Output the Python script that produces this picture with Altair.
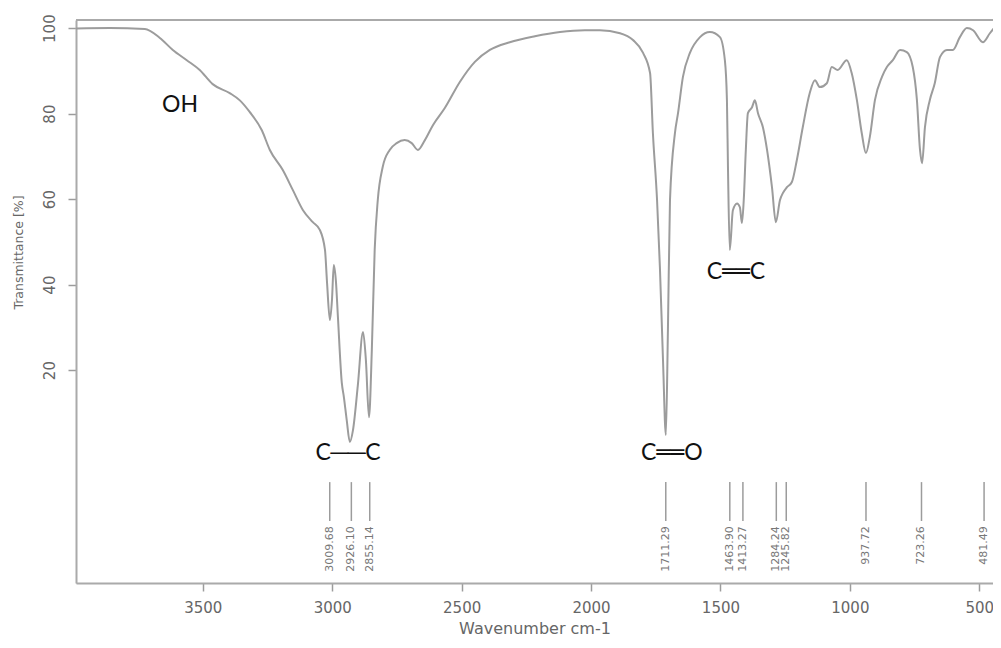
import altair as alt
import pandas as pd

# ---- spectrum trace (wavenumber cm-1, transmittance %) ----
wavenumber = [3990, 3859, 3724, 3666, 3616, 3562, 3512, 3462, 3396, 3357,
              3319, 3272, 3241, 3191, 3152, 3113, 3075, 3048, 3028, 3020,
              3009, 3001, 2994, 2986, 2978, 2963, 2955, 2944, 2932, 2920,
              2901, 2881, 2870, 2858, 2847, 2836, 2824, 2805, 2778, 2751,
              2720, 2693, 2669, 2642, 2611, 2565, 2507, 2449, 2391, 2314,
              2217, 2120, 2024, 1966, 1888, 1838, 1799, 1772, 1761, 1745,
              1734, 1722, 1711, 1703, 1695, 1676, 1664, 1645, 1618, 1579,
              1541, 1502, 1483, 1475, 1471, 1464, 1452, 1436, 1425, 1417,
              1410, 1402, 1394, 1378, 1367, 1355, 1336, 1320, 1301, 1286,
              1270, 1259, 1243, 1224, 1205, 1182, 1155, 1135, 1116, 1089,
              1070, 1047, 1012, 993, 973, 954, 938, 923, 903, 876,
              857, 834, 806, 780, 757, 741, 729, 721, 710, 691,
              672, 652, 625, 602, 575, 548, 524, 486, 459, 428]
transmittance = [99.9, 100.0, 99.8, 97.7, 94.9, 92.5, 90.2, 86.9, 84.8, 83.1,
                 80.4, 76.1, 71.5, 66.8, 62.1, 57.4, 54.6, 52.8, 48.1, 40.4,
                 31.7, 36.4, 44.6, 41.0, 32.4, 17.0, 13.7, 8.3, 3.2, 5.9,
                 16.5, 28.9, 22.4, 9.0, 24.7, 48.1, 59.8, 67.5, 71.5, 73.1,
                 73.8, 73.1, 71.5, 73.8, 77.3, 81.3, 87.4, 92.1, 94.9, 96.7,
                 98.1, 99.1, 99.5, 99.5, 98.8, 97.2, 94.2, 89.5, 75.4, 59.8,
                 44.1, 22.3, 4.8, 29.4, 59.8, 75.4, 80.1, 88.6, 94.2, 97.9,
                 99.1, 97.9, 92.5, 83.2, 67.5, 48.1, 57.4, 59.0, 58.1, 54.4,
                 59.8, 71.5, 80.1, 81.5, 83.1, 80.1, 76.8, 71.5, 62.8, 54.6,
                 59.8, 61.4, 62.8, 64.0, 69.1, 76.8, 84.8, 87.8, 86.2, 87.1,
                 90.9, 90.2, 92.5, 89.5, 83.2, 75.4, 70.8, 74.5, 83.2, 88.6,
                 90.9, 92.5, 94.9, 94.4, 90.9, 83.2, 71.5, 68.4, 76.8, 83.2,
                 87.1, 93.2, 94.9, 94.9, 97.9, 100.0, 99.5, 96.7, 98.8, 101.1]

# ---- peak picks ----
peak_positions = [3009.68, 2926.10, 2855.14, 1711.29, 1463.90, 1413.27,
                  1284.24, 1245.82, 937.72, 723.26, 481.49]
peak_labels = ["3009.68", "2926.10", "2855.14", "1711.29", "1463.90", "1413.27",
               "1284.24", "1245.82", "937.72", "723.26", "481.49"]

# ---- group annotations ----
group_text = ["OH", "C\u2500\u2500C", "C\u2550\u2550O", "C\u2550\u2550C"]
group_w = [3588, 2939, 1688, 1440]
group_t = [82.0, 0.6, 0.6, 42.9]

x_ticks = [3500, 3000, 2500, 2000, 1500, 1000, 500]
y_ticks = [20, 40, 60, 80, 100]

X_DOMAIN = [3990, 447]
Y_DOMAIN = [-29.8, 101.9]

spec = pd.DataFrame({"w": wavenumber, "T": transmittance})
peaks = pd.DataFrame({"w": peak_positions, "label": peak_labels,
                      "y1": -6.2, "y2": -15.3, "ty": -16.5})
groups = pd.DataFrame({"w": group_w, "T": group_t, "text": group_text})

GRAY = "#9c9c9c"
TXT = "#666666"
FONT = "DejaVu Sans"

xscale = alt.Scale(domain=X_DOMAIN, nice=False, zero=False)
yscale = alt.Scale(domain=Y_DOMAIN, nice=False, zero=False)

xaxis = alt.Axis(values=x_ticks, format="d", title="Wavenumber cm-1", grid=False,
                 tickSize=8, tickColor=GRAY, tickWidth=1.5,
                 domainColor="#aaaaaa", domainWidth=2,
                 labelFont=FONT, labelFontSize=15, labelColor=TXT, labelPadding=9,
                 labelBaseline="top",
                 titleFont=FONT, titleFontSize=16, titleColor=TXT, titleFontWeight="normal",
                 titleBaseline="alphabetic", titleY=50)
yaxis = alt.Axis(values=y_ticks, format="d", title="Transmittance [%]", grid=False,
                 tickSize=8, tickColor=GRAY, tickWidth=1.5,
                 domainColor="#aaaaaa", domainWidth=2,
                 labelFont=FONT, labelFontSize=15, labelColor=TXT, labelPadding=14,
                 labelAngle=270, labelAlign="center", labelBaseline="alphabetic",
                 titleFont=FONT, titleFontSize=12.5, titleColor=TXT, titleFontWeight="normal",
                 titleAngle=270, titleAlign="center", titleBaseline="middle",
                 titleX=-58, titleY=232)

line = alt.Chart(spec).mark_line(color=GRAY, strokeWidth=2, clip=True,
                                 interpolate="monotone").encode(
    x=alt.X("w:Q", scale=xscale, axis=xaxis),
    y=alt.Y("T:Q", scale=yscale, axis=yaxis),
    order=alt.Order("w:Q", sort="descending"),
)

top_frame = alt.Chart(spec).mark_rule(color="#aaaaaa", strokeWidth=2).encode(
    y=alt.datum(Y_DOMAIN[1])
)

peak_rules = alt.Chart(peaks).mark_rule(color=GRAY, strokeWidth=1.5).encode(
    x=alt.X("w:Q", scale=xscale),
    y=alt.Y("y1:Q", scale=yscale),
    y2="y2:Q",
)

peak_text = alt.Chart(peaks).mark_text(angle=270, align="right", baseline="middle",
                                       font=FONT, fontSize=11, color="#777777").encode(
    x=alt.X("w:Q", scale=xscale),
    y=alt.Y("ty:Q", scale=yscale),
    text="label:N",
)

group_labels = alt.Chart(groups).mark_text(align="center", baseline="middle",
                                           font="Lato, DejaVu Sans", fontSize=23,
                                           color="#111111").encode(
    x=alt.X("w:Q", scale=xscale),
    y=alt.Y("T:Q", scale=yscale),
    text="text:N",
)

chart = alt.layer(line, top_frame, peak_rules, peak_text, group_labels).properties(
    width=917, height=563,
    autosize=alt.AutoSizeParams(type="none"),
    padding={"left": 68, "top": 12, "right": 0, "bottom": 57},
).configure_view(stroke=None).configure(background="white")

chart.save("out.html", embed_options={"renderer": "svg", "actions": False})
